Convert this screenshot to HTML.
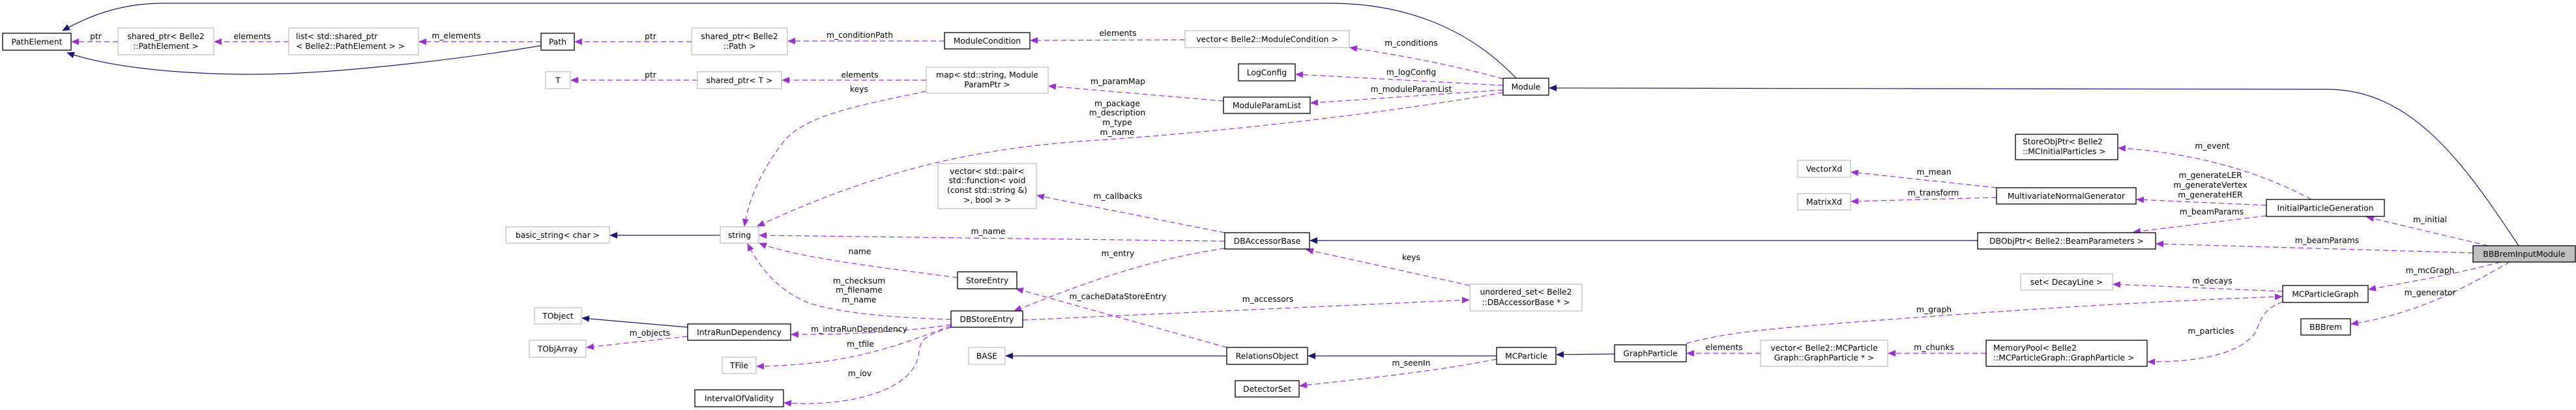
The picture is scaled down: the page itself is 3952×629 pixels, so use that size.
<!DOCTYPE html>
<html><head><meta charset="utf-8"><style>
html,body{margin:0;padding:0;background:#fff;}
svg{display:block;}
text{font-family:"DejaVu Sans","Liberation Sans",sans-serif;font-size:12.3px;fill:#000;}
.b{fill:#fff;stroke:#000;stroke-width:1.3;}
.g{fill:#fff;stroke:#bfbfbf;stroke-width:1.3;}
.p{fill:none;stroke:#9a32cd;stroke-width:1.2;stroke-dasharray:8,5;}
.n{fill:none;stroke:#191970;stroke-width:1.2;}
</style></head><body>
<svg width="3952" height="629" viewBox="0 0 3952 629" xmlns="http://www.w3.org/2000/svg">
<defs>
<marker id="ap" markerWidth="12" markerHeight="10" refX="11" refY="5" orient="auto" markerUnits="userSpaceOnUse"><path d="M0,0 L12,5 L0,10 Z" fill="#9a32cd"/></marker>
<marker id="an" markerWidth="12" markerHeight="10" refX="11" refY="5" orient="auto" markerUnits="userSpaceOnUse"><path d="M0,0 L12,5 L0,10 Z" fill="#191970"/></marker>
</defs>

<!-- inheritance edges -->
<path class="n" marker-end="url(#an)" d="M2326,120 C2250,40 2150,5 2040,5 L250,5 C180,5 130,28 96,47"/>
<path class="n" marker-end="url(#an)" d="M830,70 C700,92 500,115 380,114 C250,113 160,100 103,81"/>
<path class="n" marker-end="url(#an)" d="M3864,377 C3780,250 3700,137 3570,137 L2377,135"/>
<path class="n" marker-end="url(#an)" d="M1105,361 L936,361"/>
<path class="n" marker-end="url(#an)" d="M1055,502 L893,488"/>
<path class="n" marker-end="url(#an)" d="M3034,369 L2010,369"/>
<path class="n" marker-end="url(#an)" d="M1882,546 L1543,546"/>
<path class="n" marker-end="url(#an)" d="M2296,546 L2007,546"/>
<path class="n" marker-end="url(#an)" d="M2477,543 L2388,544"/>

<!-- usage edges -->
<path class="p" marker-end="url(#ap)" d="M830,64 L643,64"/>
<path class="p" marker-end="url(#ap)" d="M443,64 L329,64"/>
<path class="p" marker-end="url(#ap)" d="M181,64 L110,64"/>
<path class="p" marker-end="url(#ap)" d="M1061,64 L882,64"/>
<path class="p" marker-end="url(#ap)" d="M1449,63 L1209,63"/>
<path class="p" marker-end="url(#ap)" d="M1818,61 L1581,62"/>
<path class="p" marker-end="url(#ap)" d="M2306,121 C2230,100 2150,85 2071,73"/>
<path class="p" marker-end="url(#ap)" d="M2306,131 L1988,114"/>
<path class="p" marker-end="url(#ap)" d="M2306,138 L2011,158"/>
<path class="p" marker-end="url(#ap)" d="M1877,155 L1609,132"/>
<path class="p" marker-end="url(#ap)" d="M1421,123 L1200,123"/>
<path class="p" marker-end="url(#ap)" d="M1070,123 L876,123"/>
<path class="p" marker-end="url(#ap)" d="M1421,140 C1300,165 1230,180 1200,220 C1170,260 1150,300 1142,347"/>
<path class="p" marker-end="url(#ap)" d="M2306,142 C2150,170 1900,200 1700,214 C1500,225 1350,260 1162,347"/>
<path class="p" marker-end="url(#ap)" d="M1879,370 L1165,361"/>
<path class="p" marker-end="url(#ap)" d="M1879,357 L1591,300"/>
<path class="p" marker-end="url(#ap)" d="M1879,381 C1750,400 1650,440 1556,477"/>
<path class="p" marker-end="url(#ap)" d="M1469,426 C1350,410 1220,395 1165,373"/>
<path class="p" marker-end="url(#ap)" d="M1459,490 C1380,488 1270,480 1230,460 C1190,440 1165,410 1147,374"/>
<path class="p" marker-end="url(#ap)" d="M1459,498 C1400,508 1300,514 1214,513"/>
<path class="p" marker-end="url(#ap)" d="M1459,500 C1400,520 1320,560 1161,562"/>
<path class="p" marker-end="url(#ap)" d="M1459,502 C1420,515 1412,520 1410,540 C1405,600 1300,625 1203,618"/>
<path class="p" marker-end="url(#ap)" d="M1055,516 L900,533"/>
<path class="p" marker-end="url(#ap)" d="M1569,491 L2254,460"/>
<path class="p" marker-end="url(#ap)" d="M2255,438 L2004,383"/>
<path class="p" marker-end="url(#ap)" d="M1882,533 L1559,443"/>
<path class="p" marker-end="url(#ap)" d="M2296,551 C2200,570 2100,580 1994,592"/>
<path class="p" marker-end="url(#ap)" d="M2701,542 L2588,542"/>
<path class="p" marker-end="url(#ap)" d="M2587,527 C2650,510 2700,505 2900,490 C3100,475 3300,462 3501,455"/>
<path class="p" marker-end="url(#ap)" d="M3047,542 L2897,542"/>
<path class="p" marker-end="url(#ap)" d="M3502,463 C3470,475 3470,490 3460,510 C3440,540 3380,556 3295,555"/>
<path class="p" marker-end="url(#ap)" d="M3502,447 L3242,436"/>
<path class="p" marker-end="url(#ap)" d="M3063,288 L2840,264"/>
<path class="p" marker-end="url(#ap)" d="M3063,303 L2840,309"/>
<path class="p" marker-end="url(#ap)" d="M3546,306 C3480,270 3380,235 3250,227"/>
<path class="p" marker-end="url(#ap)" d="M3477,315 L3278,306"/>
<path class="p" marker-end="url(#ap)" d="M3477,331 L3273,356"/>
<path class="p" marker-end="url(#ap)" d="M3794,388 L3308,374"/>
<path class="p" marker-end="url(#ap)" d="M3817,377 L3631,333"/>
<path class="p" marker-end="url(#ap)" d="M3836,402 C3770,420 3700,432 3634,444"/>
<path class="p" marker-end="url(#ap)" d="M3850,402 C3800,430 3720,480 3607,497"/>

<!-- nodes -->
<rect class="b" x="4" y="51" width="105" height="26"/><text x="56.5" y="68.5" text-anchor="middle">PathElement</text>
<rect class="g" x="181" y="43" width="147" height="41"/><text x="254.5" y="60" text-anchor="middle">shared_ptr&lt; Belle2</text><text x="254.5" y="75" text-anchor="middle">::PathElement &gt;</text>
<rect class="g" x="443" y="43" width="199" height="41"/><text x="454" y="60">list&lt; std::shared_ptr</text><text x="454" y="75">&lt; Belle2::PathElement &gt; &gt;</text>
<rect class="b" x="830" y="51" width="51" height="26"/><text x="855.5" y="68.5" text-anchor="middle">Path</text>
<rect class="g" x="1061" y="43" width="147" height="41"/><text x="1134.5" y="60" text-anchor="middle">shared_ptr&lt; Belle2</text><text x="1134.5" y="75" text-anchor="middle">::Path &gt;</text>
<rect class="b" x="1449" y="50" width="131" height="25"/><text x="1514.5" y="67" text-anchor="middle">ModuleCondition</text>
<rect class="g" x="1818" y="47" width="252" height="26"/><text x="1944" y="64.5" text-anchor="middle">vector&lt; Belle2::ModuleCondition &gt;</text>
<rect class="g" x="837" y="110" width="38" height="26"/><text x="856" y="127.5" text-anchor="middle">T</text>
<rect class="g" x="1070" y="110" width="129" height="26"/><text x="1134.5" y="127.5" text-anchor="middle">shared_ptr&lt; T &gt;</text>
<rect class="g" x="1421" y="103" width="187" height="40"/><text x="1514.5" y="119" text-anchor="middle">map&lt; std::string, Module</text><text x="1514.5" y="134" text-anchor="middle">ParamPtr &gt;</text>
<rect class="b" x="1900" y="98" width="87" height="26"/><text x="1943.5" y="115.5" text-anchor="middle">LogConfig</text>
<rect class="b" x="1877" y="149" width="133" height="25"/><text x="1943.5" y="166" text-anchor="middle">ModuleParamList</text>
<rect class="b" x="2306" y="120" width="70" height="26"/><text x="2341" y="137.5" text-anchor="middle">Module</text>
<rect class="g" x="1439" y="251" width="151" height="69"/><text x="1514.5" y="267" text-anchor="middle">vector&lt; std::pair&lt;</text><text x="1514.5" y="281" text-anchor="middle">std::function&lt; void</text><text x="1514.5" y="296" text-anchor="middle">(const std::string &amp;)</text><text x="1514.5" y="311" text-anchor="middle">&gt;, bool &gt; &gt;</text>
<rect class="g" x="776" y="348" width="159" height="25"/><text x="855.5" y="365" text-anchor="middle">basic_string&lt; char &gt;</text>
<rect class="g" x="1105" y="348" width="59" height="25"/><text x="1134.5" y="365" text-anchor="middle">string</text>
<rect class="b" x="1879" y="357" width="130" height="25"/><text x="1944" y="374" text-anchor="middle">DBAccessorBase</text>
<rect class="b" x="1469" y="417" width="91" height="26"/><text x="1514.5" y="434.5" text-anchor="middle">StoreEntry</text>
<rect class="g" x="2255" y="436" width="172" height="41"/><text x="2341" y="452" text-anchor="middle">unordered_set&lt; Belle2</text><text x="2341" y="468" text-anchor="middle">::DBAccessorBase * &gt;</text>
<rect class="g" x="820" y="472" width="72" height="25"/><text x="856" y="489" text-anchor="middle">TObject</text>
<rect class="b" x="1055" y="497" width="158" height="25"/><text x="1134" y="514" text-anchor="middle">IntraRunDependency</text>
<rect class="b" x="1459" y="477" width="110" height="25"/><text x="1514" y="494" text-anchor="middle">DBStoreEntry</text>
<rect class="g" x="812" y="522" width="87" height="26"/><text x="855.5" y="539.5" text-anchor="middle">TObjArray</text>
<rect class="g" x="1108" y="548" width="52" height="25"/><text x="1134" y="565" text-anchor="middle">TFile</text>
<rect class="b" x="1066" y="598" width="136" height="26"/><text x="1134" y="615.5" text-anchor="middle">IntervalOfValidity</text>
<rect class="g" x="1486" y="533" width="56" height="26"/><text x="1514" y="550.5" text-anchor="middle">BASE</text>
<rect class="b" x="1882" y="533" width="124" height="26"/><text x="1944" y="550.5" text-anchor="middle">RelationsObject</text>
<rect class="b" x="1895" y="584" width="98" height="25"/><text x="1944" y="601" text-anchor="middle">DetectorSet</text>
<rect class="b" x="2296" y="533" width="91" height="26"/><text x="2341.5" y="550.5" text-anchor="middle">MCParticle</text>
<rect class="b" x="2477" y="529" width="110" height="26"/><text x="2532" y="546.5" text-anchor="middle">GraphParticle</text>
<rect class="g" x="2701" y="522" width="195" height="40"/><text x="2798.5" y="538" text-anchor="middle">vector&lt; Belle2::MCParticle</text><text x="2798.5" y="553" text-anchor="middle">Graph::GraphParticle * &gt;</text>
<rect class="g" x="2758" y="246" width="81" height="26"/><text x="2798.5" y="263.5" text-anchor="middle">VectorXd</text>
<rect class="g" x="2758" y="297" width="81" height="25"/><text x="2798.5" y="314" text-anchor="middle">MatrixXd</text>
<rect class="b" x="3092" y="206" width="157" height="39"/><text x="3103" y="221.5">StoreObjPtr&lt; Belle2</text><text x="3103" y="236.5">::MCInitialParticles &gt;</text>
<rect class="b" x="3063" y="288" width="214" height="25"/><text x="3170" y="305" text-anchor="middle">MultivariateNormalGenerator</text>
<rect class="b" x="3034" y="357" width="273" height="25"/><text x="3170.5" y="374" text-anchor="middle">DBObjPtr&lt; Belle2::BeamParameters &gt;</text>
<rect class="g" x="3100" y="420" width="141" height="25"/><text x="3170.5" y="437" text-anchor="middle">set&lt; DecayLine &gt;</text>
<rect class="b" x="3047" y="522" width="247" height="40"/><text x="3058" y="538">MemoryPool&lt; Belle2</text><text x="3058" y="553">::MCParticleGraph::GraphParticle &gt;</text>
<rect class="b" x="3477" y="306" width="181" height="26"/><text x="3567.5" y="323.5" text-anchor="middle">InitialParticleGeneration</text>
<rect class="b" x="3502" y="438" width="131" height="26"/><text x="3567.5" y="455.5" text-anchor="middle">MCParticleGraph</text>
<rect class="b" x="3530" y="489" width="76" height="25"/><text x="3568" y="506" text-anchor="middle">BBBrem</text>
<rect x="3794" y="377" width="157" height="25" fill="#bfbfbf" stroke="#000" stroke-width="1.3"/><text x="3872.5" y="394" text-anchor="middle">BBBremInputModule</text>

<!-- edge labels -->
<g text-anchor="middle">
<text x="147" y="60">ptr</text>
<text x="387" y="60">elements</text>
<text x="700" y="59">m_elements</text>
<text x="998" y="60">ptr</text>
<text x="1319" y="58">m_conditionPath</text>
<text x="1715" y="55">elements</text>
<text x="2165" y="70">m_conditions</text>
<text x="2165" y="115">m_logConfig</text>
<text x="2165" y="141">m_moduleParamList</text>
<text x="998" y="119">ptr</text>
<text x="1319" y="119">elements</text>
<text x="1318" y="141">keys</text>
<text x="1715" y="129">m_paramMap</text>
<text x="1714" y="163">m_package</text>
<text x="1714" y="177">m_description</text>
<text x="1714" y="192">m_type</text>
<text x="1714" y="207">m_name</text>
<text x="1715" y="305">m_callbacks</text>
<text x="1516" y="359">m_name</text>
<text x="1715" y="393">m_entry</text>
<text x="1319" y="390">name</text>
<text x="1318" y="435">m_checksum</text>
<text x="1318" y="449">m_filename</text>
<text x="1318" y="464">m_name</text>
<text x="1318" y="509">m_intraRunDependency</text>
<text x="1320" y="532">m_tfile</text>
<text x="1319" y="577">m_iov</text>
<text x="997" y="515">m_objects</text>
<text x="1715" y="459">m_cacheDataStoreEntry</text>
<text x="1945" y="463">m_accessors</text>
<text x="2165" y="399">keys</text>
<text x="2165" y="561">m_seenIn</text>
<text x="2645" y="537">elements</text>
<text x="2967" y="268">m_mean</text>
<text x="2966" y="300">m_transform</text>
<text x="2967" y="479">m_graph</text>
<text x="2967" y="537">m_chunks</text>
<text x="3394" y="228">m_event</text>
<text x="3391" y="273">m_generateLER</text>
<text x="3391" y="288">m_generateVertex</text>
<text x="3391" y="303">m_generateHER</text>
<text x="3393" y="329">m_beamParams</text>
<text x="3394" y="435">m_decays</text>
<text x="3392" y="512">m_particles</text>
<text x="3728" y="341">m_initial</text>
<text x="3570" y="373">m_beamParams</text>
<text x="3728" y="419">m_mcGraph</text>
<text x="3728" y="453">m_generator</text>
</g>
</svg>
</body></html>
